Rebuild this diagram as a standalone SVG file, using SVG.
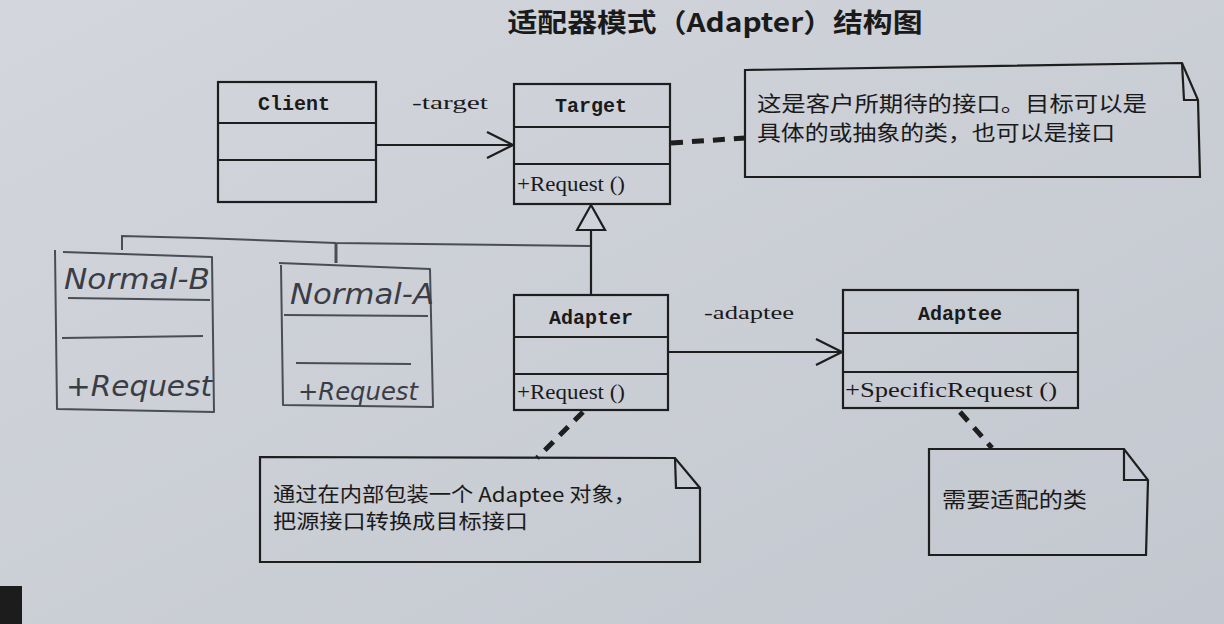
<svg xmlns="http://www.w3.org/2000/svg" width="1224" height="624" viewBox="0 0 1224 624">
<defs>
<linearGradient id="bg" x1="0" y1="0" x2="1" y2="1">
<stop offset="0" stop-color="#d3d6dc"/>
<stop offset="1" stop-color="#c3c7cf"/>
</linearGradient>
<marker id="open" viewBox="0 0 30 30" refX="28" refY="15" markerWidth="30" markerHeight="30" markerUnits="userSpaceOnUse" orient="auto">
<path d="M2,2 L28,15 L2,28" fill="none" stroke="#1e1e1e" stroke-width="2.2"/>
</marker>
</defs>
<style>
.box{fill:none;stroke:#1e1e1e;stroke-width:2.2}
.hbox{fill:none;stroke:#4a4d55;stroke-width:2;stroke-linejoin:round}
.cls{font-family:"Liberation Mono",monospace;font-weight:bold;font-size:20px;fill:#1a1a1a;text-anchor:middle}
.op{font-family:"Liberation Serif",serif;font-size:20px;fill:#1a1a1a}
.lbl{font-family:"Liberation Serif",serif;font-size:19px;fill:#1a1a1a}
.cn{font-family:"Noto Sans CJK SC",sans-serif;fill:#1a1a1a}
.hand{font-family:"DejaVu Sans",sans-serif;font-style:italic;fill:#3a3d45}
.dash{fill:none;stroke:#1e1e1e;stroke-width:5;stroke-dasharray:12 9}
</style>
<rect x="0" y="0" width="1224" height="624" fill="url(#bg)"/>
<rect x="0" y="586" width="22" height="38" fill="#1c1c1c"/>

<text x="715" y="32" font-family="Noto Sans CJK SC,sans-serif" font-weight="bold" font-size="26" fill="#1a1a1a" text-anchor="middle" textLength="415" lengthAdjust="spacingAndGlyphs">适配器模式（Adapter）结构图</text>

<g id="connectors">
<line x1="376" y1="145" x2="513" y2="145" stroke="#1e1e1e" stroke-width="2.2" marker-end="url(#open)"/>
<text class="lbl" x="412" y="109" textLength="76" lengthAdjust="spacingAndGlyphs">-target</text>
<line x1="668" y1="352" x2="842" y2="352" stroke="#1e1e1e" stroke-width="2.2" marker-end="url(#open)"/>
<text class="lbl" x="704" y="319" textLength="90" lengthAdjust="spacingAndGlyphs">-adaptee</text>
<line x1="591" y1="230" x2="591" y2="295" stroke="#1e1e1e" stroke-width="2.2"/>
<path d="M577,230 L591,205 L605,230 Z" fill="#d0d3d9" stroke="#1e1e1e" stroke-width="2.2"/>
<path class="dash" d="M671,143 L745,138"/>
<path class="dash" d="M583,412 L537,458"/>
<path class="dash" d="M960,412 L992,448"/>
<path d="M122,250 L122,236 L200,238 L336,243 L590,246" fill="none" stroke="#4a4d55" stroke-width="2"/>
<path d="M336,243 L336,263" fill="none" stroke="#4a4d55" stroke-width="3"/>
</g>

<g id="client">
<rect class="box" x="218" y="82" width="158" height="120"/>
<line class="box" x1="218" y1="123" x2="376" y2="123"/>
<line class="box" x1="218" y1="160" x2="376" y2="160"/>
<text class="cls" x="294" y="110">Client</text>
</g>

<g id="target">
<rect class="box" x="514" y="84" width="156" height="120"/>
<line class="box" x1="514" y1="127" x2="670" y2="127"/>
<line class="box" x1="514" y1="164" x2="670" y2="164"/>
<text class="cls" x="591" y="112">Target</text>
<text class="op" x="517" y="191" textLength="108" lengthAdjust="spacingAndGlyphs">+Request ()</text>
</g>

<g id="adapter">
<rect class="box" x="514" y="295" width="154" height="115"/>
<line class="box" x1="514" y1="337" x2="668" y2="337"/>
<line class="box" x1="514" y1="374" x2="668" y2="374"/>
<text class="cls" x="591" y="324">Adapter</text>
<text class="op" x="517" y="399" textLength="108" lengthAdjust="spacingAndGlyphs">+Request ()</text>
</g>

<g id="adaptee">
<rect class="box" x="843" y="290" width="235" height="118"/>
<line class="box" x1="843" y1="333" x2="1078" y2="333"/>
<line class="box" x1="843" y1="372" x2="1078" y2="372"/>
<text class="cls" x="960" y="320">Adaptee</text>
<text class="op" x="845" y="397" textLength="212" lengthAdjust="spacingAndGlyphs">+SpecificRequest ()</text>
</g>

<g id="note-target">
<path class="box" d="M745,70 L1182,63 L1198,100 L1200,177 L745,177 Z"/>
<path class="box" d="M1182,63 L1184,100 L1198,100"/>
<text class="cn" x="757" y="111" font-size="21" textLength="390" lengthAdjust="spacingAndGlyphs">这是客户所期待的接口。目标可以是</text>
<text class="cn" x="757" y="140" font-size="21" textLength="358" lengthAdjust="spacingAndGlyphs">具体的或抽象的类，也可以是接口</text>
</g>

<g id="note-adapter">
<path class="box" d="M260,457 L675,458 L700,488 L700,562 L260,562 Z"/>
<path class="box" d="M675,458 L676,488 L700,488"/>
<text class="cn" x="273" y="502" font-size="20" textLength="363" lengthAdjust="spacingAndGlyphs">通过在内部包装一个 Adaptee 对象，</text>
<text class="cn" x="273" y="529" font-size="20" textLength="255" lengthAdjust="spacingAndGlyphs">把源接口转换成目标接口</text>
</g>

<g id="note-adaptee">
<path class="box" d="M929,449 L1124,449 L1148,480 L1146,555 L929,555 Z"/>
<path class="box" d="M1124,449 L1124,480 L1148,480"/>
<text class="cn" x="942" y="507" font-size="21" textLength="145" lengthAdjust="spacingAndGlyphs">需要适配的类</text>
</g>

<g id="normal-b">
<path class="hbox" d="M63,252 L212,257 L214,412 L57,409 L55,250"/>
<path class="hbox" d="M68,298 L210,300"/>
<path class="hbox" d="M62,338 L203,336"/>
<text class="hand" x="64" y="289" font-size="28" textLength="146" lengthAdjust="spacingAndGlyphs">Normal-B</text>
<text class="hand" x="66" y="396" font-size="28" textLength="146" lengthAdjust="spacingAndGlyphs">+Request</text>
</g>

<g id="normal-a">
<path class="hbox" d="M279,263 L430,269 L433,407 L283,405 L281,265"/>
<path class="hbox" d="M284,315 L428,316"/>
<path class="hbox" d="M296,363 L411,364"/>
<text class="hand" x="290" y="304" font-size="28" textLength="144" lengthAdjust="spacingAndGlyphs">Normal-A</text>
<text class="hand" x="298" y="400" font-size="25" textLength="120" lengthAdjust="spacingAndGlyphs">+Request</text>
</g>
</svg>
